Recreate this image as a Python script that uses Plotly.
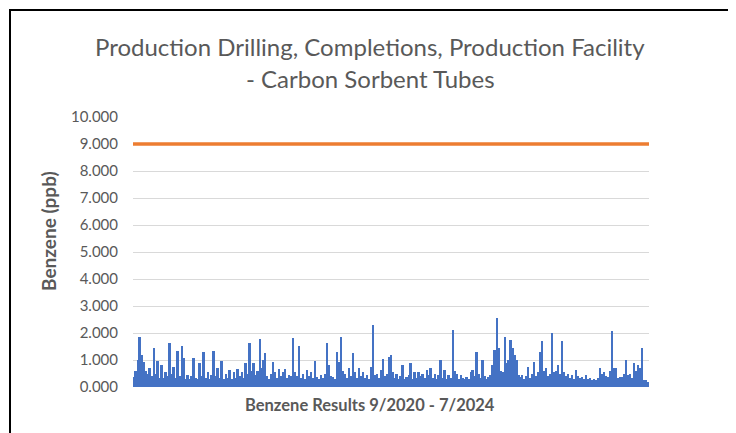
import plotly.graph_objects as go

# Benzene results (ppb), sample order 9/2020 - 7/2024
benzene_ppb = [
    0.38, 0.6, 1.0, 1.86, 1.2, 0.94, 0.6, 0.5, 0.7, 0.4,
    1.46, 0.5, 0.96, 0.35, 0.8, 0.35, 0.57, 0.4, 1.64, 0.5,
    0.75, 0.35, 1.33, 0.4, 1.53, 1.06, 0.3, 0.45, 0.3, 0.4,
    1.06, 0.35, 0.3, 0.88, 0.4, 1.28, 0.35, 0.57, 0.3, 0.45,
    1.33, 0.4, 0.7, 0.35, 0.96, 0.3, 0.5, 0.35, 0.63, 0.3,
    0.57, 0.35, 0.65, 0.4, 0.57, 0.35, 0.88, 0.5, 1.62, 0.6,
    0.88, 0.45, 0.6, 1.77, 0.7, 1.0, 1.27, 0.4, 0.3, 0.5,
    0.94, 0.57, 0.35, 0.65, 0.4, 0.57, 0.65, 0.35, 0.45, 0.4,
    1.8, 0.57, 0.4, 1.53, 0.35, 0.5, 0.3, 0.63, 0.4, 0.57,
    0.35, 0.98, 0.38, 0.3, 0.45, 0.35, 0.5, 1.62, 0.82, 0.4,
    0.38, 0.3, 1.28, 0.94, 1.84, 0.6, 0.5, 0.35, 0.7, 0.4,
    1.25, 0.57, 0.35, 0.7, 0.4, 0.57, 0.35, 0.45, 0.3, 0.75,
    2.3, 0.45, 0.5, 0.35, 0.63, 1.02, 0.4, 0.5, 1.12, 1.18,
    0.57, 0.35, 0.5, 0.3, 0.4, 0.81, 0.3, 0.38, 0.45, 0.88,
    0.3, 0.57, 0.35, 0.57, 0.4, 0.5, 0.35, 0.63, 0.45, 0.7,
    0.35, 0.5, 0.3, 0.45, 1.0, 0.35, 0.63, 0.3, 0.45, 0.35,
    2.11, 0.6, 0.5, 0.3, 0.45, 0.35, 0.3, 0.38, 0.3, 0.57,
    0.63, 0.4, 1.31, 0.5, 0.35, 1.0, 0.4, 0.3, 0.38, 0.45,
    0.81, 1.37, 2.54, 1.46, 0.6, 0.57, 1.86, 0.9, 1.0, 1.74,
    1.43, 1.2, 1.0, 0.45, 0.38, 0.45, 0.3, 0.4, 0.75, 0.35,
    0.5, 0.94, 0.4, 0.57, 1.3, 1.72, 0.6, 0.7, 0.4, 0.5,
    1.99, 0.57, 0.6, 0.82, 0.5, 1.72, 0.57, 0.4, 0.5, 0.35,
    0.45, 0.3, 0.63, 0.4, 0.35, 0.38, 0.3, 0.45, 0.3, 0.32,
    0.25, 0.3, 0.26, 0.35, 0.7, 0.5, 0.57, 0.4, 0.38, 0.6,
    2.09, 0.7, 0.7, 0.35, 0.38, 0.38, 0.5, 1.0, 0.45, 0.5,
    0.35, 0.88, 0.6, 0.82, 0.7, 1.46, 0.26, 0.25, 0.2,
]
sample_index = list(range(1, len(benzene_ppb) + 1))
action_level = [9.0] * len(benzene_ppb)

y_ticks = [0, 1, 2, 3, 4, 5, 6, 7, 8, 9, 10]
y_tick_labels = [f"{v:.3f}" for v in y_ticks]

title_line1 = "Production Drilling, Completions, Production Facility"
title_line2 = "- Carbon Sorbent Tubes"
x_title = "Benzene Results 9/2020 - 7/2024"
y_title = "Benzene (ppb)"

# the page body adds an 8px margin; work in window pixels and shift
OFF = 8
WIN_W, WIN_H = 736, 433
W, H = WIN_W - OFF, WIN_H - OFF
PL, PR, PT, PB = 133, 649, 117, 387   # plot area in window pixels
L, R, T, B = PL - OFF, W - (PR - OFF), PT - OFF, H - (PB - OFF)
pw, ph = W - L - R, H - T - B


def px(x):
    return (x - OFF - L) / pw


def py(y):
    return (H - B - (y - OFF)) / ph


fig = go.Figure()
fig.add_trace(go.Bar(
    x=sample_index, y=benzene_ppb,
    marker=dict(color="#4472C4", line=dict(width=0)),
    showlegend=False,
))
fig.add_trace(go.Scatter(
    x=[sample_index[0] - 0.5] + sample_index[1:-1] + [sample_index[-1] + 0.5],
    y=action_level, mode="lines",
    line=dict(color="#ED7D31", width=3.5),
    showlegend=False,
))

gray = "#595959"
font = "Lato, 'Open Sans', sans-serif"

fig.update_layout(
    width=W, height=H,
    margin=dict(l=L, r=R, t=T, b=B),
    paper_bgcolor="white", plot_bgcolor="white",
    bargap=0,
    font=dict(family=font, color=gray),
    xaxis=dict(
        range=[0.5, len(benzene_ppb) + 0.5],
        showticklabels=False, showgrid=False, zeroline=False,
        showline=False, ticks="",
    ),
    yaxis=dict(
        range=[0, 10], tickvals=y_ticks, ticktext=y_tick_labels,
        showgrid=True, gridcolor="#D9D9D9", gridwidth=1,
        zeroline=False, showline=False, ticks="",
        tickfont=dict(size=15, color=gray, family=font),
        ticklabelstandoff=14,
    ),
    annotations=[
        dict(text=title_line1, x=px(370), y=py(47), xref="paper", yref="paper",
             showarrow=False, font=dict(size=24, color=gray, family=font),
             xanchor="center", yanchor="middle"),
        dict(text=title_line2, x=px(370), y=py(79), xref="paper", yref="paper",
             showarrow=False, font=dict(size=24, color=gray, family=font),
             xanchor="center", yanchor="middle"),
        dict(text="<b>" + x_title + "</b>", x=px(370), y=py(405), xref="paper",
             yref="paper", showarrow=False,
             font=dict(size=16.5, color=gray, family=font),
             xanchor="center", yanchor="middle"),
        dict(text="<b>" + y_title + "</b>", x=px(48), y=py(231), xref="paper",
             yref="paper", showarrow=False, textangle=-90,
             font=dict(size=19, color=gray, family=font),
             xanchor="center", yanchor="middle"),
    ],
    shapes=[
        dict(type="rect", xref="paper", yref="paper",
             x0=px(10), x1=px(730), y0=py(445), y1=py(10),
             line=dict(color="black", width=2), fillcolor="rgba(0,0,0,0)",
             layer="above"),
    ],
)

fig.write_html("out.html")
